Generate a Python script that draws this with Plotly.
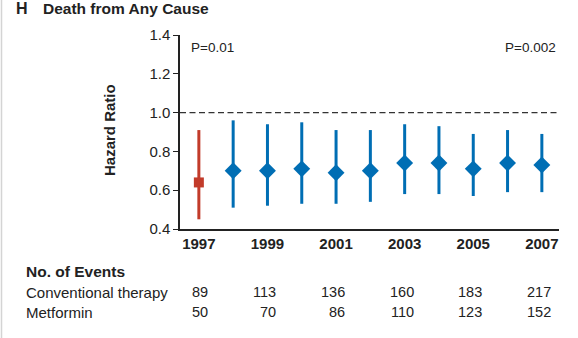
import plotly.graph_objects as go

# Hazard ratios (with 95% CI) for death from any cause, by year
years = [1997, 1998, 1999, 2000, 2001, 2002, 2003, 2004, 2005, 2006, 2007]
hazard_ratio = [0.64, 0.70, 0.70, 0.71, 0.69, 0.70, 0.74, 0.74, 0.71, 0.74, 0.73]
ci_low = [0.45, 0.51, 0.52, 0.53, 0.53, 0.54, 0.58, 0.58, 0.57, 0.59, 0.59]
ci_high = [0.91, 0.96, 0.94, 0.95, 0.91, 0.91, 0.94, 0.93, 0.89, 0.91, 0.89]

# Cumulative number of events shown under the axis
event_years = [1997, 1999, 2001, 2003, 2005, 2007]
events_conventional = [89, 113, 136, 160, 183, 217]
events_metformin = [50, 70, 86, 110, 123, 152]

year_ticks = [1997, 1999, 2001, 2003, 2005, 2007]
hr_ticks = [0.4, 0.6, 0.8, 1.0, 1.2, 1.4]
p_values = ["P=0.01", "P=0.002"]

RED = "#C23B2A"
BLUE = "#006EB4"
INK = "#222222"
FONT = "Liberation Sans"

# page geometry (pixels) used to place the free-standing labels
W, H = 578, 338
L, R, T, B = 180, 19, 35, 109
PW, PH = W - L - R, H - T - B


def px_x(px):
    return (px - L) / PW


def px_y(py):
    return (H - B - py) / PH


fig = go.Figure()


def add_series(idx, color, symbol, size):
    xs = [years[i] for i in idx]
    ys = [hazard_ratio[i] for i in idx]
    plus = [ci_high[i] - hazard_ratio[i] for i in idx]
    minus = [hazard_ratio[i] - ci_low[i] for i in idx]
    fig.add_trace(go.Scatter(
        x=xs, y=ys, mode="markers",
        marker=dict(symbol=symbol, size=size, color=color, line=dict(width=0)),
        error_y=dict(type="data", symmetric=False, array=plus, arrayminus=minus,
                     thickness=3, width=0, color=color),
        showlegend=False, hoverinfo="skip",
    ))


add_series([0], RED, "square", 10)
add_series(list(range(1, len(years))), BLUE, "diamond", 13)

# reference line at HR = 1.0
fig.add_shape(type="line", xref="paper", yref="y", x0=0, x1=1, y0=1.0, y1=1.0,
              line=dict(color="#333333", width=1.2, dash="6px,3.5px"))

# faint panel border on the left edge
fig.add_shape(type="line", xref="paper", yref="paper",
              x0=px_x(1.5), x1=px_x(1.5), y0=px_y(0), y1=px_y(H),
              line=dict(color="#d4d4d4", width=1.5))

ann = []
# panel title
ann.append(dict(text="<b>H</b>", x=px_x(14), y=px_y(8), xanchor="left", yanchor="middle",
                font=dict(size=16, color=INK, family=FONT)))
ann.append(dict(text="<b>Death from Any Cause</b>", x=px_x(41), y=px_y(8),
                xanchor="left", yanchor="middle",
                font=dict(size=15.5, color=INK, family=FONT)))
# y-axis title
ann.append(dict(text="<b>Hazard Ratio</b>", x=px_x(109), y=px_y(130), textangle=-90,
                xanchor="center", yanchor="middle",
                font=dict(size=15, color=INK, family=FONT)))
# P values
ann.append(dict(text=p_values[0], x=px_x(189), y=px_y(47), xanchor="left", yanchor="middle",
                font=dict(size=13.5, color=INK, family=FONT)))
ann.append(dict(text=p_values[1], x=px_x(558), y=px_y(47), xanchor="right", yanchor="middle",
                font=dict(size=13.5, color=INK, family=FONT)))
# events table
ann.append(dict(text="<b>No. of Events</b>", x=px_x(24), y=px_y(271), xanchor="left",
                yanchor="middle", font=dict(size=15.5, color=INK, family=FONT)))
ann.append(dict(text="Conventional therapy", x=px_x(24), y=px_y(292), xanchor="left",
                yanchor="middle", font=dict(size=15, color=INK, family=FONT)))
ann.append(dict(text="Metformin", x=px_x(24), y=px_y(312), xanchor="left",
                yanchor="middle", font=dict(size=15, color=INK, family=FONT)))
for yr, c, m in zip(event_years, events_conventional, events_metformin):
    for val, py in ((c, 292), (m, 312)):
        ann.append(dict(text=str(val), x=yr + 0.32, xref="x", y=px_y(py), yref="paper",
                        xanchor="right", yanchor="middle",
                        font=dict(size=14.5, color=INK, family=FONT)))

for a in ann:
    a.setdefault("xref", "paper")
    a.setdefault("yref", "paper")
    a["showarrow"] = False

fig.update_layout(
    width=W, height=H,
    margin=dict(l=L, r=R, t=T, b=B),
    paper_bgcolor="white", plot_bgcolor="white",
    annotations=ann,
    xaxis=dict(range=[1996.45, 2007.5], showgrid=False, zeroline=False,
               showline=True, linecolor=INK, linewidth=1.5, ticks="",
               tickvals=year_ticks, ticktext=[f"<b>{y}</b>" for y in year_ticks],
               tickfont=dict(size=15, color=INK, family=FONT)),
    yaxis=dict(range=[0.4, 1.4], showgrid=False, zeroline=False,
               showline=True, linecolor=INK, linewidth=1.5,
               ticks="outside", ticklen=5, tickwidth=1.2, tickcolor=INK,
               tickvals=hr_ticks, ticktext=[f"{v:.1f}" for v in hr_ticks],
               tickfont=dict(size=15, color=INK, family=FONT)),
)

fig.write_html("out.html")
